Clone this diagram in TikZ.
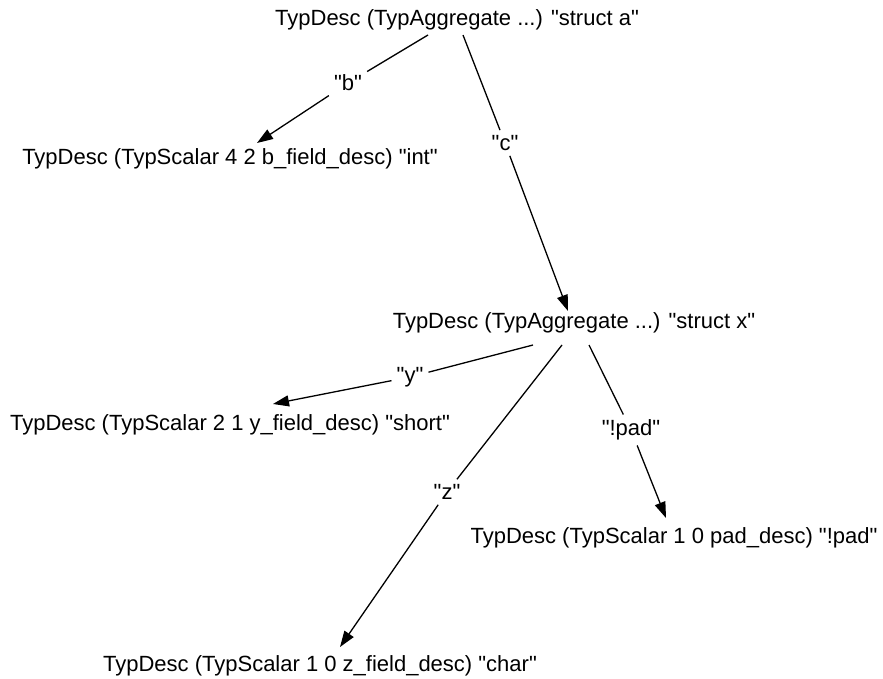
\documentclass[tikz,border=0pt]{standalone}
\usepackage{fontspec}
\setmainfont{Liberation Sans}[Ligatures=TeXOff]
\usetikzlibrary{arrows.meta}
\tikzset{
  tnode/.style={anchor=base, inner sep=0pt, font=\fontsize{22}{26}\selectfont},
  lbl/.style={anchor=center, inner sep=5pt, font=\fontsize{22}{26}\selectfont},
  edge/.style={line width=1.3pt, black},
  arr/.style={edge, -{Triangle[length=16pt,width=11pt]}}
}
\begin{document}
\begin{tikzpicture}[x=1pt,y=-1pt]
\useasboundingbox (0,0) rectangle (883,679);
% type nodes
\node[tnode] (A) at (457,26) {TypDesc (TypAggregate ...) "struct a"};
\node[tnode] (B) at (230,165) {TypDesc (TypScalar 4 2 b\_field\_desc) "int"};
\node[tnode] (X) at (574,328) {TypDesc (TypAggregate ...) "struct x"};
\node[tnode] (Y) at (230,430) {TypDesc (TypScalar 2 1 y\_field\_desc) "short"};
\node[tnode] (P) at (674,543) {TypDesc (TypScalar 1 0 pad\_desc) "!pad"};
\node[tnode] (Z) at (320,671) {TypDesc (TypScalar 1 0 z\_field\_desc) "char"};
% edge labels
\node[lbl] (lb) at (348,83) {"b"};
\node[lbl] (lc) at (505,143) {"c"};
\node[lbl] (ly) at (410,377) {"y"};
\node[lbl] (lp) at (631,430) {"!pad"};
\node[lbl] (lz) at (447,492) {"z"};
% tail and head points
\coordinate (tb) at (428,35);
\coordinate (tc) at (463,35);
\coordinate (ty) at (533,345);
\coordinate (tz) at (562,345);
\coordinate (tp) at (589,345);
\coordinate (hb) at (257,143);
\coordinate (hc) at (568,311);
\coordinate (hy) at (273,404);
\coordinate (hz) at (340,647);
\coordinate (hp) at (666,518);
% edges
\draw[edge] (tb) -- (lb); \draw[arr] (lb) -- (hb);
\draw[edge] (tc) -- (lc); \draw[arr] (lc) -- (hc);
\draw[edge] (ty) -- (ly); \draw[arr] (ly) -- (hy);
\draw[edge] (tz) -- (lz); \draw[arr] (lz) -- (hz);
\draw[edge] (tp) -- (lp); \draw[arr] (lp) -- (hp);
\end{tikzpicture}
\end{document}
